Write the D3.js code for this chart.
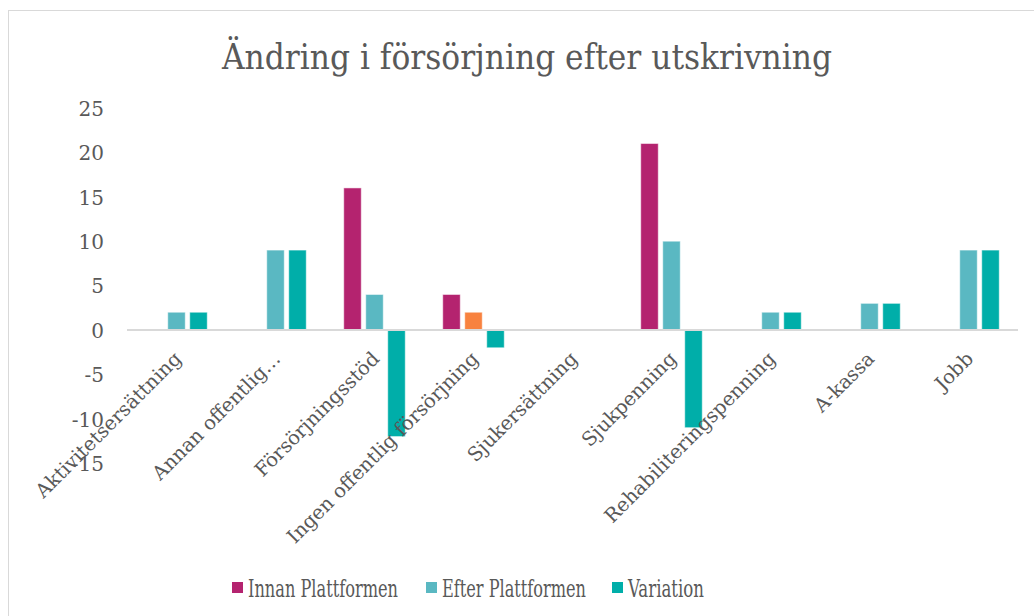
<!DOCTYPE html>
<html><head><meta charset="utf-8">
<script src="https://cdn.jsdelivr.net/npm/d3@7"></script>
<style>
html,body{margin:0;padding:0;background:#fff;}
svg{display:block;}
</style></head>
<body>
<svg id="chart" width="1034" height="616"></svg>
<script>
const categories = ["Aktivitetsersättning","Annan offentlig…","Försörjningsstöd","Ingen offentlig försörjning","Sjukersättning","Sjukpenning","Rehabiliteringspenning","A-kassa","Jobb"];
const seriesNames = ["Innan Plattformen","Efter Plattformen","Variation"];
const innan = [0,0,16,4,0,21,0,0,0];
const efter = [2,9,4,2,0,10,2,3,9];
const variation = [2,9,-12,-2,0,-11,2,3,9];
const yTicks = [-15,-10,-5,0,5,10,15,20,25];
const title = "Ändring i försörjning efter utskrivning";

const colors = ["#B4236F","#5AB8C2","#00AEA9"];
const highlight = {series:1, cat:3, color:"#F8823F"};
const seriesVals = [innan, efter, variation];

const svg = d3.select("#chart");
const textColor = "#595959";
const axisFont = "'DejaVu Serif', serif";
const condFont = "'DejaVu Serif Condensed','DejaVu Serif', serif";

svg.append("rect").attr("x",8.5).attr("y",10.5).attr("width",1040).attr("height",620)
  .attr("fill","#fff").attr("stroke","#D9D9D9").attr("stroke-width",1);

svg.append("text").attr("x",527).attr("y",69).attr("text-anchor","middle")
  .attr("font-family",condFont).attr("font-stretch","condensed").attr("font-size",36)
  .attr("fill",textColor).attr("textLength",610).attr("lengthAdjust","spacingAndGlyphs")
  .text(title);

const x0 = d3.scaleBand().domain(categories).range([127,1018]).padding(0);
const y = d3.scaleLinear().domain([-15,25]).range([463.2,108]);
const groupW = 66;
const x1 = d3.scaleBand().domain(d3.range(3)).range([0,groupW]).padding(0);
const barW = 17.5;

// y labels
const yAxis = d3.axisLeft(y).tickValues(yTicks).tickFormat(d=>String(d)).tickSize(0).tickPadding(0);
const gy = svg.append("g").attr("transform","translate(104,0)").call(yAxis);
gy.select(".domain").remove();
gy.selectAll("text").attr("font-family",axisFont).attr("font-size",20).attr("fill",textColor).attr("dy","0.36em");

// bars
const bars = [];
categories.forEach((c,ci)=>{
  seriesVals.forEach((vals,si)=>{
    bars.push({c,ci,si,v:vals[ci]});
  });
});
svg.append("g").selectAll("rect").data(bars.filter(d=>d.v!==0)).join("rect")
  .attr("x",d=>x0(d.c)+(x0.bandwidth()-groupW)/2 + x1(d.si) + (x1.bandwidth()-barW)/2)
  .attr("width",barW)
  .attr("y",d=>Math.min(y(d.v),y(0)))
  .attr("height",d=>Math.abs(y(d.v)-y(0)))
  .attr("fill",d=> (d.si===highlight.series && d.ci===highlight.cat) ? highlight.color : colors[d.si])
  .attr("stroke","rgba(255,255,255,0.5)").attr("stroke-width",1);

// zero line
svg.append("line").attr("x1",127).attr("x2",1018).attr("y1",y(0)).attr("y2",y(0))
  .attr("stroke","#D9D9D9").attr("stroke-width",2);

// category labels
const xAxis = d3.axisBottom(x0).tickSize(0).tickPadding(0);
const gx = svg.append("g").attr("transform",`translate(0,${y(0)})`).call(xAxis);
gx.select(".domain").remove();
gx.selectAll(".tick text")
  .attr("font-family",axisFont).attr("font-size",19.5).attr("fill",textColor)
  .attr("text-anchor","end").attr("dy",null).attr("y",0)
  .attr("transform","translate(6,30) rotate(-45)");

// legend
const legendItems = [
  {name:seriesNames[0], x:232, color:colors[0], w:150},
  {name:seriesNames[1], x:426, color:colors[1], w:144},
  {name:seriesNames[2], x:612, color:colors[2], w:76}
];
const lg = svg.append("g");
legendItems.forEach(it=>{
  lg.append("rect").attr("x",it.x).attr("y",582).attr("width",11).attr("height",11).attr("fill",it.color);
  lg.append("text").attr("x",it.x+16).attr("y",597).attr("font-family",condFont).attr("font-stretch","condensed")
    .attr("font-size",24).attr("fill",textColor).attr("textLength",it.w).attr("lengthAdjust","spacingAndGlyphs").text(it.name);
});
</script>
</body></html>
